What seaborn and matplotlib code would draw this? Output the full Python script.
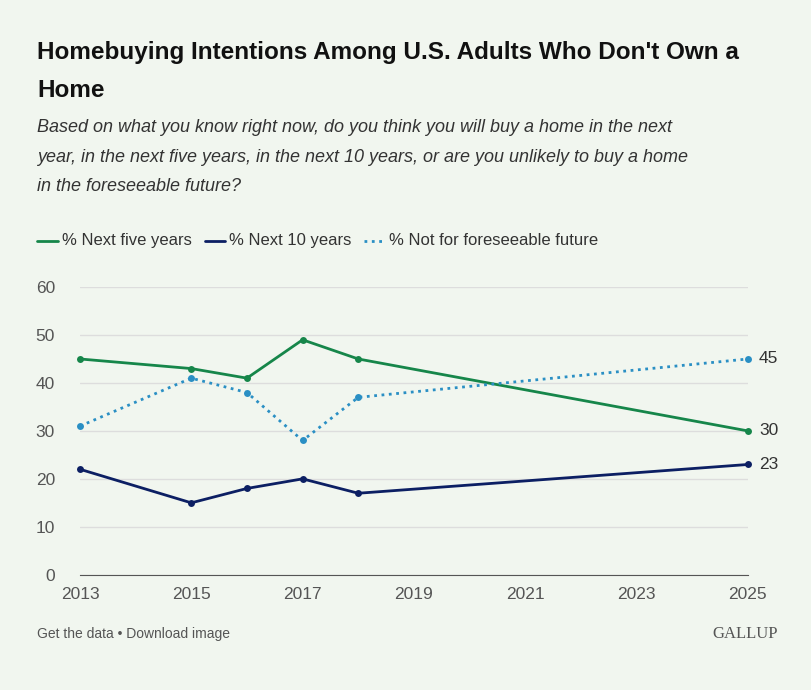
import matplotlib
matplotlib.use('Agg')
import matplotlib.pyplot as plt
import seaborn as sns
import pandas as pd

years = [2013, 2015, 2016, 2017, 2018, 2025]
next_five = [45, 43, 41, 49, 45, 30]
next_ten = [22, 15, 18, 20, 17, 23]
not_foreseeable = [31, 41, 38, 28, 37, 45]

sns.set_style('white')
plt.rcParams['font.family'] = ['Liberation Sans', 'DejaVu Sans']

bg = '#f1f6ef'
fig = plt.figure(figsize=(8.12, 6.9), dpi=100, facecolor=bg)
ax = fig.add_axes([0.0985, 0.167, 0.8225, 0.417], facecolor=bg)

series = [
    ('% Next five years', next_five, '#16864a', '-'),
    ('% Next 10 years', next_ten, '#0c1f63', '-'),
    ('% Not for foreseeable future', not_foreseeable, '#2a8fc4', ':'),
]
for name, vals, col, ls in series:
    df = pd.DataFrame({'year': years, 'v': vals})
    sns.lineplot(data=df, x='year', y='v', ax=ax, color=col, linestyle=ls,
                 linewidth=2, marker='o', markersize=5, markeredgewidth=0,
                 clip_on=False)
    ax.text(2025.2, vals[-1], str(vals[-1]), va='center', ha='left',
            fontsize=12.5, color='#333333')

ax.set_xlim(2013, 2025)
ax.set_ylim(0, 60)
ax.set_xticks(range(2013, 2026, 2))
ax.set_yticks(range(0, 61, 10))
ax.set_xlabel('')
ax.set_ylabel('')
ax.tick_params(axis='both', labelsize=12.5, colors='#555555', length=0)
ax.tick_params(axis='x', length=5, color='#555555', pad=4)
ax.tick_params(axis='y', pad=18)
ax.grid(axis='y', color='#dddddd', linewidth=1)
for s in ['top', 'right', 'left']:
    ax.spines[s].set_visible(False)
ax.spines['bottom'].set_color('#555555')

fig.text(0.046, 0.915, "Homebuying Intentions Among U.S. Adults Who Don't Own a",
         fontsize=17.5, fontweight='bold', color='#111111')
fig.text(0.046, 0.86, "Home", fontsize=17.5, fontweight='bold', color='#111111')
fig.text(0.046, 0.827, "Based on what you know right now, do you think you will buy a home in the next\n"
         "year, in the next five years, in the next 10 years, or are you unlikely to buy a home\n"
         "in the foreseeable future?", fontsize=13, style='italic', color='#333333',
         linespacing=1.95, va='top')

lx = 0.046
ly = 0.651
for name, vals, col, ls in series:
    fig.add_artist(plt.Line2D([lx, lx + 0.025], [ly, ly], color=col, linestyle=ls,
                              linewidth=2, transform=fig.transFigure))
    t = fig.text(lx + 0.03, ly, name, va='center', fontsize=12, color='#333333')
    fig.canvas.draw()
    bb = t.get_window_extent().transformed(fig.transFigure.inverted())
    lx = bb.x1 + 0.016

fig.text(0.046, 0.075, 'Get the data • Download image', fontsize=10, color='#555555')
fig.text(0.958, 0.075, 'GALLUP', fontsize=12, color='#555555', ha='right',
         family=['Liberation Serif', 'DejaVu Serif'])

fig.savefig('out.png', facecolor=bg)
